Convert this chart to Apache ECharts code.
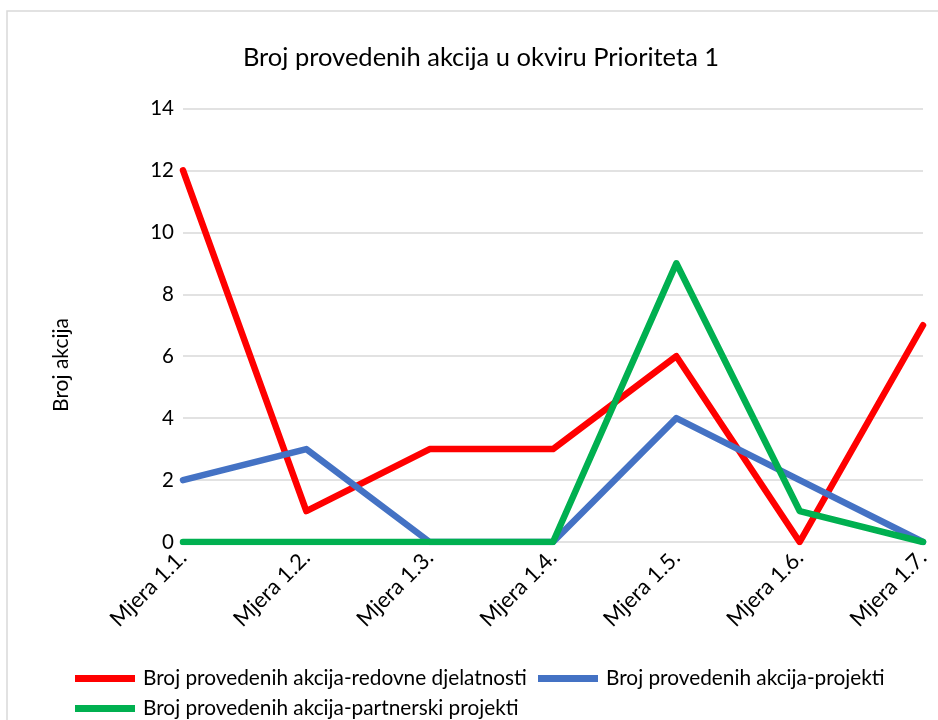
<!DOCTYPE html>
<html>
<head>
<meta charset="utf-8">
<script src="https://cdn.jsdelivr.net/npm/echarts@6/dist/echarts.min.js"></script>
<style>
html, body { margin: 0; padding: 0; background: #fff; }
#main { width: 938px; height: 720px; }
</style>
</head>
<body>
<div id="main"></div>
<script>
var categories = ['Mjera 1.1.', 'Mjera 1.2.', 'Mjera 1.3.', 'Mjera 1.4.', 'Mjera 1.5.', 'Mjera 1.6.', 'Mjera 1.7.'];
var redovne = [12, 1, 3, 3, 6, 0, 7];
var projekti = [2, 3, 0, 0, 4, 2, 0];
var partnerski = [0, 0, 0, 0, 9, 1, 0];
var seriesNames = [
    'Broj provedenih akcija-redovne djelatnosti',
    'Broj provedenih akcija-projekti',
    'Broj provedenih akcija-partnerski projekti'
];

var fontName = 'Lato';
var myChart = echarts.init(document.getElementById('main'));

function legendAt(name, left, top) {
    return {
        data: [name],
        left: left,
        top: top,
        padding: 0,
        icon: 'rect',
        itemWidth: 60,
        itemHeight: 7,
        textStyle: { fontFamily: fontName, fontSize: 20.8, color: '#000', padding: [0, 0, 0, 3] }
    };
}

var option = {
    animation: false,
    color: ['#FF0000', '#4472C4', '#00B050'],
    title: {
        text: 'Broj provedenih akcija u okviru Prioriteta 1',
        left: 476,
        textAlign: 'center',
        top: 40,
        textStyle: { fontFamily: fontName, fontSize: 25.5, fontWeight: 'normal', color: '#000' }
    },
    graphic: [
        {
            type: 'rect',
            shape: { x: 7, y: 11, width: 960, height: 740 },
            style: { fill: null, stroke: '#D9D9D9', lineWidth: 1.5 },
            silent: true
        },
        {
            type: 'text',
            x: 61,
            y: 365,
            rotation: Math.PI / 2,
            style: {
                text: 'Broj akcija',
                fontFamily: fontName,
                fontSize: 21,
                fill: '#000',
                align: 'center',
                verticalAlign: 'middle'
            }
        }
    ],
    legend: [
        legendAt(seriesNames[0], 75, 668),
        legendAt(seriesNames[1], 538, 668),
        legendAt(seriesNames[2], 75, 698)
    ],
    grid: { left: 183, right: 15, top: 108.5, bottom: 178, containLabel: false },
    xAxis: {
        type: 'category',
        data: categories,
        boundaryGap: false,
        axisLine: { show: false },
        axisTick: { show: false },
        axisLabel: {
            rotate: 45,
            margin: 12,
            fontFamily: fontName,
            fontSize: 22,
            color: '#000'
        }
    },
    yAxis: {
        type: 'value',
        min: 0,
        max: 14,
        interval: 2,
        axisLine: { show: false },
        axisTick: { show: false },
        axisLabel: { margin: 9, fontFamily: fontName, fontSize: 20.5, color: '#000' },
        splitLine: { lineStyle: { color: '#D9D9D9', width: 1.5 } }
    },
    series: [
        { name: seriesNames[0], type: 'line', data: redovne, showSymbol: false, lineStyle: { width: 6.5, cap: 'round', join: 'round' } },
        { name: seriesNames[1], type: 'line', data: projekti, showSymbol: false, lineStyle: { width: 6.5, cap: 'round', join: 'round' } },
        { name: seriesNames[2], type: 'line', data: partnerski, showSymbol: false, lineStyle: { width: 6.5, cap: 'round', join: 'round' } }
    ]
};

myChart.setOption(option);
</script>
</body>
</html>
